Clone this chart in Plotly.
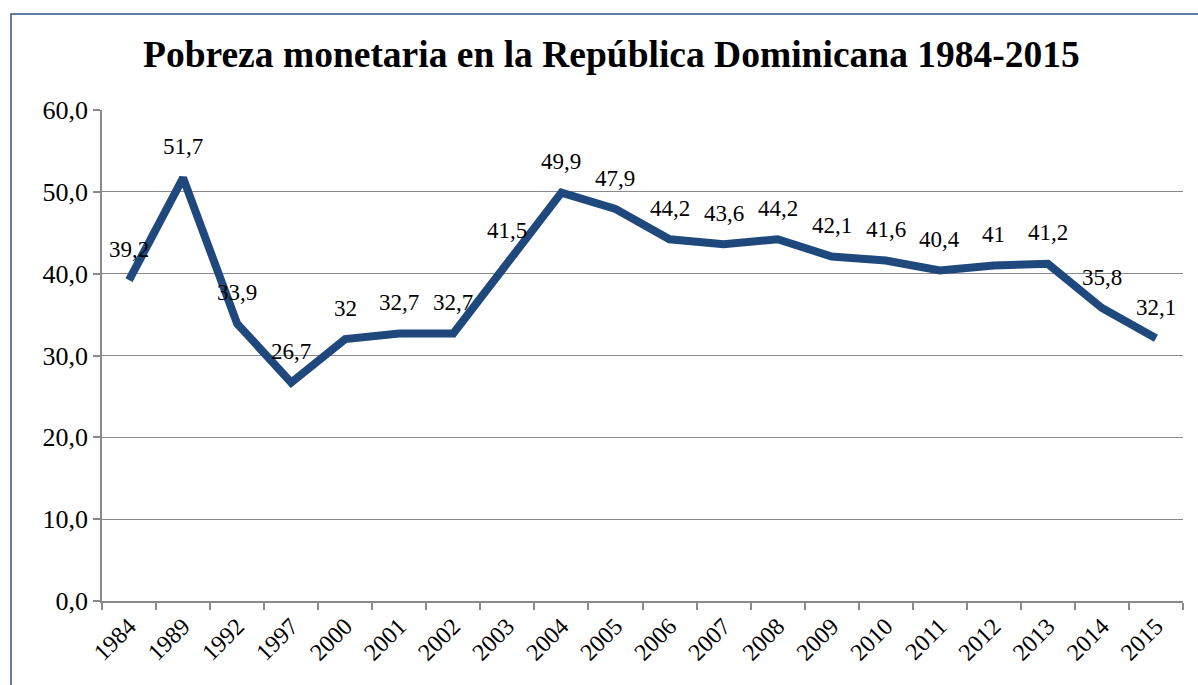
import plotly.graph_objects as go

years = ["1984", "1989", "1992", "1997", "2000", "2001", "2002", "2003", "2004", "2005",
         "2006", "2007", "2008", "2009", "2010", "2011", "2012", "2013", "2014", "2015"]
pobreza = [39.2, 51.7, 33.9, 26.7, 32, 32.7, 32.7, 41.5, 49.9, 47.9,
           44.2, 43.6, 44.2, 42.1, 41.6, 40.4, 41, 41.2, 35.8, 32.1]
y_ticks = [0, 10, 20, 30, 40, 50, 60]
y_ticktext = ["0,0", "10,0", "20,0", "30,0", "40,0", "50,0", "60,0"]
title_text = "Pobreza monetaria en la República Dominicana 1984-2015"

SERIF = "Liberation Serif"

W, H = 1198, 685
ml, mr, mt, mb = 102, 15, 110, 84
pw, ph = W - ml - mr, H - mt - mb

fig = go.Figure()
fig.add_trace(go.Scatter(
    x=years, y=pobreza, mode="lines",
    line=dict(color="#1F497D", width=8, shape="linear"),
    hoverinfo="x+y", showlegend=False,
))

for i, v in enumerate(pobreza):
    fig.add_annotation(
        x=i, y=v, xref="x", yref="y",
        text=f"{v:g}".replace(".", ","),
        showarrow=False, yshift=31, yanchor="middle", xanchor="center",
        font=dict(family=SERIF, size=23, color="black"),
    )

fig.add_annotation(
    x=(611 - ml) / pw, y=1 + (mt - 55) / ph, xref="paper", yref="paper",
    text="<b>" + title_text + "</b>", xanchor="center", yanchor="middle",
    showarrow=False, font=dict(family=SERIF, size=37.5, color="black"),
)

# outer border
fig.add_shape(
    type="rect", xref="paper", yref="paper",
    x0=(11 - ml) / pw, x1=1.1, y0=-0.3, y1=1 + (mt - 14) / ph,
    line=dict(color="#2F5386", width=1.5), fillcolor="rgba(0,0,0,0)", layer="above",
)

fig.update_layout(
    width=W, height=H,
    margin=dict(l=ml, r=mr, t=mt, b=mb),
    paper_bgcolor="white", plot_bgcolor="white",
    font=dict(family=SERIF, size=23, color="black"),
)
fig.update_xaxes(
    type="category", categoryorder="array", categoryarray=years,
    range=[-0.5, len(years) - 0.5], autorange=False,
    tickangle=-45, tickson="boundaries",
    ticks="outside", ticklen=7, tickcolor="#8A8A8A", tickwidth=1.5,
    showline=True, linecolor="#8A8A8A", linewidth=1.5,
    showgrid=False, tickfont=dict(family=SERIF, size=24, color="black"),
)
fig.update_yaxes(
    range=[0, 60], autorange=False, tickvals=y_ticks, ticktext=y_ticktext,
    ticks="outside", ticklen=7, tickcolor="#8A8A8A", tickwidth=1.5,
    showline=True, linecolor="#8A8A8A", linewidth=1.5,
    showgrid=True, gridcolor="#8A8A8A", gridwidth=1.4, zeroline=False,
    tickfont=dict(family=SERIF, size=26, color="black"),
)

fig.write_html("out.html")
